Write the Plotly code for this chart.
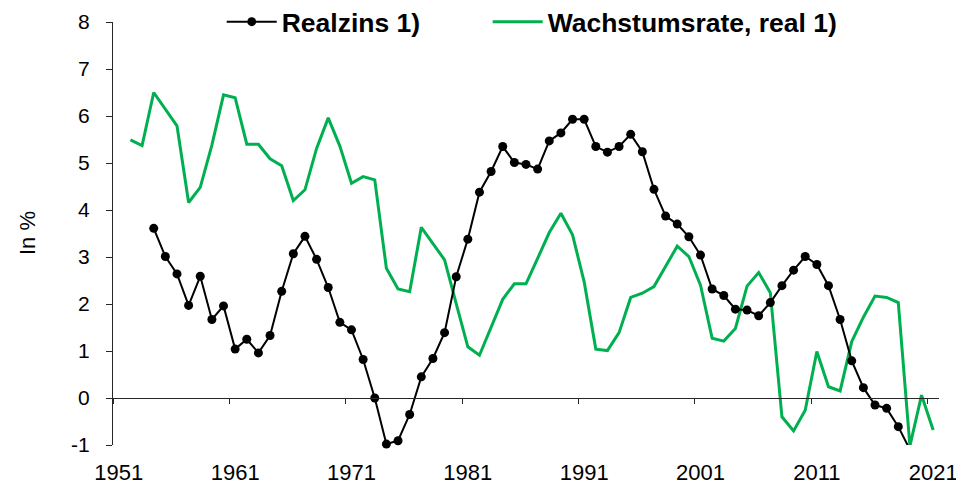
import plotly.graph_objects as go

# ---- data ----
realzins_years = list(range(1954, 2020))
realzins = [3.61, 3.01, 2.64, 1.97, 2.59, 1.67, 1.96, 1.04, 1.25, 0.96,
            1.33, 2.27, 3.07, 3.44, 2.95, 2.35, 1.61, 1.45, 0.82, 0.00,
            -0.98, -0.91, -0.35, 0.45, 0.84, 1.39, 2.58, 3.38, 4.38, 4.82,
            5.35, 5.01, 4.97, 4.87, 5.47, 5.64, 5.93, 5.93, 5.35, 5.23,
            5.35, 5.61, 5.24, 4.44, 3.87, 3.70, 3.43, 3.04, 2.32, 2.18,
            1.89, 1.87, 1.75, 2.03, 2.39, 2.72, 3.01, 2.84, 2.39, 1.67,
            0.79, 0.22, -0.15, -0.22, -0.61, -1.10]

wachstum_years = list(range(1952, 2022))
wachstum = [5.49, 5.37, 6.50, 6.15, 5.79, 4.16, 4.48, 5.38, 6.45, 6.39,
            5.40, 5.40, 5.09, 4.94, 4.20, 4.43, 5.31, 5.96, 5.36, 4.57,
            4.71, 4.64, 2.76, 2.32, 2.26, 3.63, 3.29, 2.94, 2.01, 1.09,
            0.91, 1.51, 2.10, 2.43, 2.43, 2.97, 3.52, 3.93, 3.47, 2.47,
            1.04, 1.01, 1.39, 2.14, 2.23, 2.37, 2.79, 3.23, 3.01, 2.40,
            1.27, 1.21, 1.48, 2.38, 2.67, 2.24, -0.40, -0.70, -0.26, 0.99,
            0.24, 0.15, 1.20, 1.72, 2.17, 2.14, 2.03, -1.02, 0.06, -0.68]

assert len(realzins) == len(realzins_years)
assert len(wachstum) == len(wachstum_years)

x_tick_years = list(range(1951, 2022, 10))
x_tick_labels = [str(y) for y in x_tick_years]
y_ticks = list(range(-1, 9))
y_tick_labels = [str(v) for v in y_ticks]

FONT = "Liberation Sans, Arial, sans-serif"
GREEN = "rgb(0,176,80)"
AXIS = "#262626"
Y_MIN, Y_MAX = -1, 8

# like the original: markers outside the value axis are not drawn
marker_sizes = [9 if v >= Y_MIN else 0 for v in realzins]

fig = go.Figure()
fig.add_trace(go.Scatter(
    x=wachstum_years, y=wachstum, name="Wachstumsrate, real 1)",
    mode="lines", xaxis="x", yaxis="y", legend="legend2",
    line=dict(color=GREEN, width=3),
))
fig.add_trace(go.Scatter(
    x=realzins_years, y=realzins, name="Realzins 1)",
    mode="lines+markers", xaxis="x2", yaxis="y", legend="legend",
    line=dict(color="black", width=2),
    marker=dict(color="black", size=marker_sizes, opacity=1,
                line=dict(width=0, color="black")),
    cliponaxis=False,
))

xr = [1950.5, 2021.5]
legend_font = dict(family=FONT, size=26.5, color="black", weight="bold")
fig.update_layout(
    template="none",
    width=956, height=476,
    margin=dict(l=105, r=25, t=14, b=39, autoexpand=False),
    paper_bgcolor="white", plot_bgcolor="white",
    font=dict(family=FONT, size=21, color="black"),
    showlegend=True,
    legend=dict(
        orientation="h", x=0.1316, xanchor="left", y=1.0, yanchor="middle",
        font=legend_font, itemwidth=50, bgcolor="rgba(0,0,0,0)",
    ),
    legend2=dict(
        orientation="h", x=0.4536, xanchor="left", y=1.0, yanchor="middle",
        font=legend_font, itemwidth=50, bgcolor="rgba(0,0,0,0)",
    ),
    xaxis=dict(
        range=xr, tickmode="array", tickvals=x_tick_years, ticktext=x_tick_labels,
        showline=False, showgrid=False, zeroline=False,
        ticks="outside", ticklen=8, tickcolor="rgba(0,0,0,0)",
        tickfont=dict(family=FONT, size=22), automargin=False,
    ),
    xaxis2=dict(
        range=xr, overlaying="x", anchor="free", position=1/9,
        showline=True, linecolor=AXIS, linewidth=1,
        showgrid=False, zeroline=False, showticklabels=False,
        tickmode="array", tickvals=[y - 0.5 for y in x_tick_years],
        ticks="outside", ticklen=5, tickcolor=AXIS, automargin=False,
    ),
    yaxis=dict(
        range=[Y_MIN, Y_MAX], tickmode="array", tickvals=y_ticks, ticktext=y_tick_labels,
        showline=True, linecolor=AXIS, linewidth=1,
        showgrid=False, zeroline=False,
        ticks="outside", ticklen=6, tickcolor=AXIS,
        ticklabelstandoff=12,
        tickfont=dict(family=FONT, size=21), automargin=False,
    ),
    annotations=[dict(
        text="In %", xref="paper", yref="paper", x=-0.1035, y=0.5,
        xanchor="center", yanchor="middle", textangle=-90, showarrow=False,
        font=dict(family=FONT, size=22, color="black"),
    )],
)

fig.write_html("out.html")
